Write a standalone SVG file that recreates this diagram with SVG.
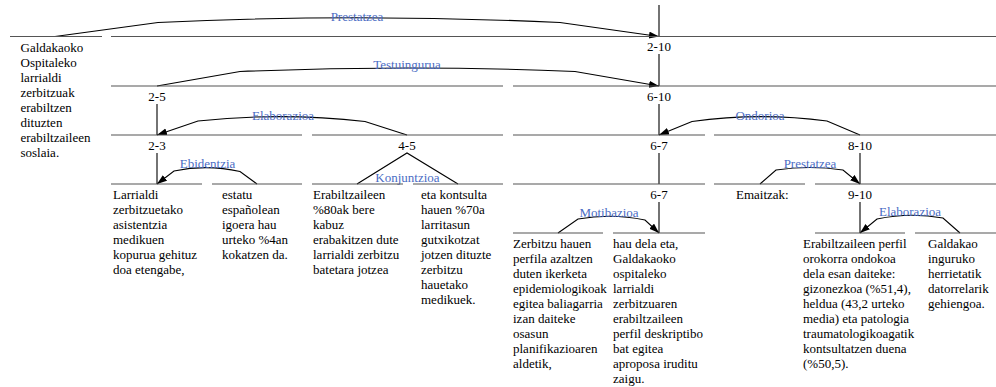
<svg xmlns="http://www.w3.org/2000/svg" width="996" height="387" viewBox="0 0 996 387">
<style>
.bg{fill:#ffffff}
.hl{stroke:#555555;stroke-width:1.2;fill:none}
.vl{stroke:#000000;stroke-width:1.1;fill:none}
.arc{stroke:#000000;stroke-width:1.1;fill:none}
.arr{marker-end:url(#ah)}
.t{font-family:"Liberation Serif","Times New Roman",serif;font-size:13px;fill:#000000}
.num{font-family:"Liberation Serif","Times New Roman",serif;font-size:13px;fill:#000000;text-anchor:middle}
.rel{font-family:"Liberation Serif","Times New Roman",serif;font-size:13px;fill:#4a6cc4;text-anchor:middle}
</style>
<defs>
<marker id="ah" markerUnits="userSpaceOnUse" markerWidth="11" markerHeight="8" refX="10" refY="3.5" orient="auto">
<path d="M0,0 L10,3.5 L0,7 z" fill="#000000"/>
</marker>
</defs>
<rect class="bg" x="0" y="0" width="996" height="387"/>

<g id="connectors">
<path class="arc arr" d="M55,36.5 L158,22.5 Q357,13 560,22.5 L659,36.5"/>
<path class="arc arr" d="M157,86 L240,71.5 Q407,64.5 575,71.5 L659,86"/>
<path class="arc arr" d="M407,135 L365,121.5 Q282,112 198,121 L157,135"/>
<path class="arc arr" d="M860,135 L827,121 Q759,112 692,121.5 L659,135"/>
<path class="arc arr" d="M257,184 L240,171.5 Q207,164 174,171 L157,184"/>
<path class="arc arr" d="M760,184 L776,170 Q810,165 843,170 L860,184"/>
<path class="arc arr" d="M558,233 L578,219 Q612,213 645,220 L659,233"/>
<path class="arc arr" d="M960,233 L943,218 Q910,212 877,219 L860,233"/>
<path class="arc" d="M357,184 L407,153 L458,184"/>
<line class="vl" x1="659" y1="5" x2="659" y2="36.5"/>
<line class="vl" x1="659" y1="54" x2="659" y2="86"/>
<line class="vl" x1="157" y1="104" x2="157" y2="135"/>
<line class="vl" x1="659" y1="104" x2="659" y2="135"/>
<line class="vl" x1="157" y1="153" x2="157" y2="184"/>
<line class="vl" x1="659" y1="153" x2="659" y2="184"/>
<line class="vl" x1="860" y1="153" x2="860" y2="184"/>
<line class="vl" x1="659" y1="202" x2="659" y2="233"/>
<line class="vl" x1="860" y1="202" x2="860" y2="233"/>
</g>

<g id="relations">
<text class="rel" x="357" y="21">Prestatzea</text>
<text class="rel" x="407" y="68.5">Testuingurua</text>
<text class="rel" x="283" y="119.5">Elaborazioa</text>
<text class="rel" x="760" y="119.5">Ondorioa</text>
<text class="rel" x="207.5" y="168">Ebidentzia</text>
<text class="rel" x="810" y="167.5">Prestatzea</text>
<text class="rel" x="407.5" y="181.5">Konjuntzioa</text>
<text class="rel" x="609" y="217">Motibazioa</text>
<text class="rel" x="910" y="216">Elaborazioa</text>
</g>

<g id="span-2-10">
<line class="hl" x1="111" y1="36.5" x2="996" y2="36.5"/>
<text class="num" x="659" y="51">2-10</text>
</g>
<g id="span-2-5">
<line class="hl" x1="111" y1="86" x2="503" y2="86"/>
<text class="num" x="157" y="101">2-5</text>
</g>
<g id="span-6-10">
<line class="hl" x1="513" y1="86" x2="996" y2="86"/>
<text class="num" x="659" y="101">6-10</text>
</g>
<g id="span-2-3">
<line class="hl" x1="111" y1="135" x2="302" y2="135"/>
<text class="num" x="157" y="150">2-3</text>
</g>
<g id="span-4-5">
<line class="hl" x1="312" y1="135" x2="503" y2="135"/>
<text class="num" x="407" y="150">4-5</text>
</g>
<g id="span-6-7">
<line class="hl" x1="513" y1="135" x2="705" y2="135"/>
<text class="num" x="659" y="150">6-7</text>
</g>
<g id="span-8-10">
<line class="hl" x1="714" y1="135" x2="996" y2="135"/>
<text class="num" x="860" y="150">8-10</text>
</g>
<g id="span-6-7b">
<line class="hl" x1="513" y1="184" x2="705" y2="184"/>
<text class="num" x="659" y="199">6-7</text>
</g>
<g id="span-9-10">
<line class="hl" x1="815" y1="184" x2="996" y2="184"/>
<text class="num" x="860" y="199">9-10</text>
</g>

<g id="seg1">
<line class="hl" x1="10" y1="36.5" x2="102" y2="36.5"/>
<text class="t" x="20.5" y="51.5">Galdakaoko</text>
<text class="t" x="20.5" y="66.5">Ospitaleko</text>
<text class="t" x="20.5" y="81.5">larrialdi</text>
<text class="t" x="20.5" y="96.5">zerbitzuak</text>
<text class="t" x="20.5" y="111.5">erabiltzen</text>
<text class="t" x="20.5" y="126.5">dituzten</text>
<text class="t" x="20.5" y="141.5">erabiltzaileen</text>
<text class="t" x="20.5" y="156.5">soslaia.</text>
</g>
<g id="seg2">
<line class="hl" x1="111" y1="184" x2="202" y2="184"/>
<text class="t" x="113" y="199">Larrialdi</text>
<text class="t" x="113" y="214">zerbitzuetako</text>
<text class="t" x="113" y="229">asistentzia</text>
<text class="t" x="113" y="244">medikuen</text>
<text class="t" x="113" y="259">kopurua gehituz</text>
<text class="t" x="113" y="274">doa etengabe,</text>
</g>
<g id="seg3">
<line class="hl" x1="212" y1="184" x2="302" y2="184"/>
<text class="t" x="222" y="199">estatu</text>
<text class="t" x="222" y="214">españolean</text>
<text class="t" x="222" y="229">igoera hau</text>
<text class="t" x="222" y="244">urteko %4an</text>
<text class="t" x="222" y="259">kokatzen da.</text>
</g>
<g id="seg4">
<line class="hl" x1="312" y1="184" x2="403" y2="184"/>
<text class="t" x="313" y="199">Erabiltzaileen</text>
<text class="t" x="313" y="214">%80ak bere</text>
<text class="t" x="313" y="229">kabuz</text>
<text class="t" x="313" y="244">erabakitzen dute</text>
<text class="t" x="313" y="259">larrialdi zerbitzu</text>
<text class="t" x="313" y="274">batetara jotzea</text>
</g>
<g id="seg5">
<line class="hl" x1="413" y1="184" x2="503" y2="184"/>
<text class="t" x="421" y="199">eta kontsulta</text>
<text class="t" x="421" y="214">hauen %70a</text>
<text class="t" x="421" y="229">larritasun</text>
<text class="t" x="421" y="244">gutxikotzat</text>
<text class="t" x="421" y="259">jotzen dituzte</text>
<text class="t" x="421" y="274">zerbitzu</text>
<text class="t" x="421" y="289">hauetako</text>
<text class="t" x="421" y="304">medikuek.</text>
</g>
<g id="seg6">
<line class="hl" x1="513" y1="233" x2="603" y2="233"/>
<text class="t" x="513" y="248">Zerbitzu hauen</text>
<text class="t" x="513" y="263">perfila azaltzen</text>
<text class="t" x="513" y="278">duten ikerketa</text>
<text class="t" x="513" y="293">epidemiologikoak</text>
<text class="t" x="513" y="308">egitea baliagarria</text>
<text class="t" x="513" y="323">izan daiteke</text>
<text class="t" x="513" y="338">osasun</text>
<text class="t" x="513" y="353">planifikazioaren</text>
<text class="t" x="513" y="368">aldetik,</text>
</g>
<g id="seg7">
<line class="hl" x1="613" y1="233" x2="705" y2="233"/>
<text class="t" x="613" y="248">hau dela eta,</text>
<text class="t" x="613" y="263">Galdakaoko</text>
<text class="t" x="613" y="278">ospitaleko</text>
<text class="t" x="613" y="293">larrialdi</text>
<text class="t" x="613" y="308">zerbitzuaren</text>
<text class="t" x="613" y="323">erabiltzaileen</text>
<text class="t" x="613" y="338">perfil deskriptibo</text>
<text class="t" x="613" y="353">bat egitea</text>
<text class="t" x="613" y="368">aproposa iruditu</text>
<text class="t" x="613" y="383">zaigu.</text>
</g>
<g id="seg8">
<line class="hl" x1="714" y1="184" x2="805" y2="184"/>
<text class="t" x="736" y="199">Emaitzak:</text>
</g>
<g id="seg9">
<line class="hl" x1="815" y1="233" x2="905" y2="233"/>
<text class="t" x="803" y="248">Erabiltzaileen perfil</text>
<text class="t" x="803" y="263">orokorra ondokoa</text>
<text class="t" x="803" y="278">dela esan daiteke:</text>
<text class="t" x="803" y="293">gizonezkoa (%51,4),</text>
<text class="t" x="803" y="308">heldua (43,2 urteko</text>
<text class="t" x="803" y="323">media) eta patologia</text>
<text class="t" x="803" y="338">traumatologikoagatik</text>
<text class="t" x="803" y="353">kontsultatzen duena</text>
<text class="t" x="803" y="368">(%50,5).</text>
</g>
<g id="seg10">
<line class="hl" x1="915" y1="233" x2="996" y2="233"/>
<text class="t" x="928" y="248">Galdakao</text>
<text class="t" x="928" y="263">inguruko</text>
<text class="t" x="928" y="278">herrietatik</text>
<text class="t" x="928" y="293">datorrelarik</text>
<text class="t" x="928" y="308">gehiengoa.</text>
</g>
</svg>
